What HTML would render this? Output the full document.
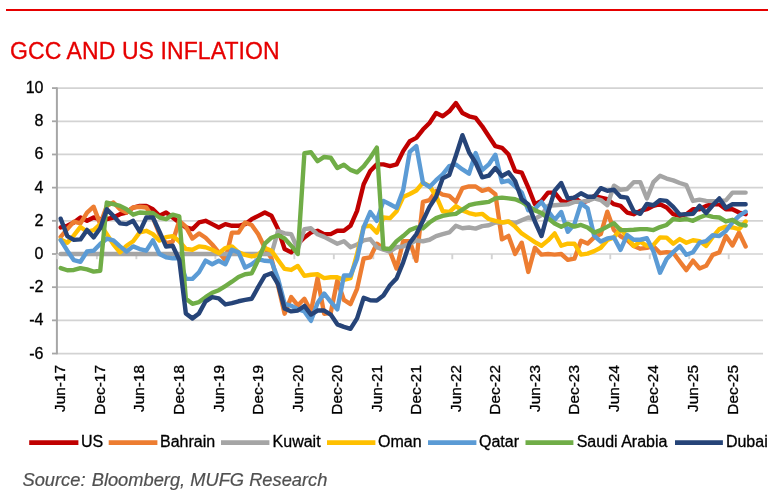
<!DOCTYPE html>
<html><head><meta charset="utf-8"><title>GCC and US Inflation</title>
<style>
html,body{margin:0;padding:0;background:#fff;}
body{width:775px;height:497px;position:relative;overflow:hidden;font-family:"Liberation Sans",Arial,sans-serif;}
.rule{position:absolute;left:6px;top:9px;width:762px;height:2px;background:#E60000;}
.title{position:absolute;left:10px;top:37px;font-size:23px;letter-spacing:0.09px;color:#E60000;-webkit-text-stroke:0.3px #E60000;white-space:nowrap;line-height:28px;}
.src{position:absolute;left:22.5px;top:469px;font-size:18.3px;font-style:italic;color:#505050;-webkit-text-stroke:0.2px #505050;white-space:nowrap;line-height:22px;}
svg text{font-family:"Liberation Sans",Arial,sans-serif;fill:#000;stroke:#000;stroke-width:0.3px;}
svg text.ax{font-size:16.0px;}
svg text.ay{font-size:16px;}
svg text.axx{font-size:15.4px;}
</style></head><body>
<div class="rule"></div>
<div class="title">GCC AND US INFLATION</div>
<svg width="775" height="497" viewBox="0 0 775 497" style="position:absolute;left:0;top:0">
<line x1="57.4" y1="353.54" x2="763.0" y2="353.54" stroke="#D3D3D3" stroke-width="1.7"/>
<line x1="52" y1="353.54" x2="57.4" y2="353.54" stroke="#A6A6A6" stroke-width="1.8"/>
<line x1="57.4" y1="320.36" x2="763.0" y2="320.36" stroke="#D3D3D3" stroke-width="1.7"/>
<line x1="52" y1="320.36" x2="57.4" y2="320.36" stroke="#A6A6A6" stroke-width="1.8"/>
<line x1="57.4" y1="287.18" x2="763.0" y2="287.18" stroke="#D3D3D3" stroke-width="1.7"/>
<line x1="52" y1="287.18" x2="57.4" y2="287.18" stroke="#A6A6A6" stroke-width="1.8"/>
<line x1="57.4" y1="254.00" x2="763.0" y2="254.00" stroke="#D3D3D3" stroke-width="1.7"/>
<line x1="52" y1="254.00" x2="57.4" y2="254.00" stroke="#A6A6A6" stroke-width="1.8"/>
<line x1="57.4" y1="220.82" x2="763.0" y2="220.82" stroke="#D3D3D3" stroke-width="1.7"/>
<line x1="52" y1="220.82" x2="57.4" y2="220.82" stroke="#A6A6A6" stroke-width="1.8"/>
<line x1="57.4" y1="187.64" x2="763.0" y2="187.64" stroke="#D3D3D3" stroke-width="1.7"/>
<line x1="52" y1="187.64" x2="57.4" y2="187.64" stroke="#A6A6A6" stroke-width="1.8"/>
<line x1="57.4" y1="154.46" x2="763.0" y2="154.46" stroke="#D3D3D3" stroke-width="1.7"/>
<line x1="52" y1="154.46" x2="57.4" y2="154.46" stroke="#A6A6A6" stroke-width="1.8"/>
<line x1="57.4" y1="121.28" x2="763.0" y2="121.28" stroke="#D3D3D3" stroke-width="1.7"/>
<line x1="52" y1="121.28" x2="57.4" y2="121.28" stroke="#A6A6A6" stroke-width="1.8"/>
<line x1="57.4" y1="88.10" x2="763.0" y2="88.10" stroke="#D3D3D3" stroke-width="1.7"/>
<line x1="52" y1="88.10" x2="57.4" y2="88.10" stroke="#A6A6A6" stroke-width="1.8"/>
<line x1="56.9" y1="87.50" x2="56.9" y2="354.14" stroke="#A6A6A6" stroke-width="2"/>
<line x1="57.40" y1="254.00" x2="57.40" y2="259.20" stroke="#D3D3D3" stroke-width="1.9"/>
<line x1="96.89" y1="254.00" x2="96.89" y2="259.20" stroke="#D3D3D3" stroke-width="1.9"/>
<line x1="136.38" y1="254.00" x2="136.38" y2="259.20" stroke="#D3D3D3" stroke-width="1.9"/>
<line x1="175.87" y1="254.00" x2="175.87" y2="259.20" stroke="#D3D3D3" stroke-width="1.9"/>
<line x1="215.36" y1="254.00" x2="215.36" y2="259.20" stroke="#D3D3D3" stroke-width="1.9"/>
<line x1="254.85" y1="254.00" x2="254.85" y2="259.20" stroke="#D3D3D3" stroke-width="1.9"/>
<line x1="294.34" y1="254.00" x2="294.34" y2="259.20" stroke="#D3D3D3" stroke-width="1.9"/>
<line x1="333.83" y1="254.00" x2="333.83" y2="259.20" stroke="#D3D3D3" stroke-width="1.9"/>
<line x1="373.32" y1="254.00" x2="373.32" y2="259.20" stroke="#D3D3D3" stroke-width="1.9"/>
<line x1="412.81" y1="254.00" x2="412.81" y2="259.20" stroke="#D3D3D3" stroke-width="1.9"/>
<line x1="452.30" y1="254.00" x2="452.30" y2="259.20" stroke="#D3D3D3" stroke-width="1.9"/>
<line x1="491.79" y1="254.00" x2="491.79" y2="259.20" stroke="#D3D3D3" stroke-width="1.9"/>
<line x1="531.28" y1="254.00" x2="531.28" y2="259.20" stroke="#D3D3D3" stroke-width="1.9"/>
<line x1="570.77" y1="254.00" x2="570.77" y2="259.20" stroke="#D3D3D3" stroke-width="1.9"/>
<line x1="610.26" y1="254.00" x2="610.26" y2="259.20" stroke="#D3D3D3" stroke-width="1.9"/>
<line x1="649.75" y1="254.00" x2="649.75" y2="259.20" stroke="#D3D3D3" stroke-width="1.9"/>
<line x1="689.24" y1="254.00" x2="689.24" y2="259.20" stroke="#D3D3D3" stroke-width="1.9"/>
<line x1="728.73" y1="254.00" x2="728.73" y2="259.20" stroke="#D3D3D3" stroke-width="1.9"/>
<polyline points="60.70,227.46 67.29,225.80 73.87,222.48 80.46,217.50 87.04,220.82 93.63,217.50 100.22,219.16 106.80,219.16 113.39,217.50 119.97,214.18 126.56,212.53 133.15,207.55 139.73,205.89 146.32,205.89 152.90,209.21 159.49,215.84 166.08,212.53 172.66,217.50 179.25,222.48 185.83,227.46 192.42,229.12 199.01,222.48 205.59,220.82 212.18,224.14 218.76,227.46 225.35,224.14 231.94,225.80 238.52,225.80 245.11,224.14 251.69,219.16 258.28,215.84 264.87,212.53 271.45,215.84 278.04,229.12 284.62,249.02 291.21,252.34 297.80,244.05 304.38,237.41 310.97,232.43 317.55,230.77 324.14,234.09 330.73,234.09 337.31,230.77 343.90,230.77 350.48,225.80 357.07,210.87 363.66,184.32 370.24,171.05 376.83,164.41 383.41,164.41 390.00,166.07 396.59,164.41 403.17,151.14 409.76,141.19 416.34,137.87 422.93,129.57 429.52,122.94 436.10,112.99 442.69,116.30 449.27,111.33 455.86,103.03 462.45,112.99 469.03,116.30 475.62,117.96 482.20,126.26 488.79,136.21 495.38,146.17 501.96,147.82 508.55,154.46 515.13,171.05 521.72,172.71 528.31,187.64 534.89,204.23 541.48,200.91 548.06,192.62 554.65,192.62 561.24,200.91 567.82,202.57 574.41,197.59 580.99,202.57 587.58,200.91 594.17,195.94 600.75,197.59 607.34,199.25 613.92,204.23 620.51,205.89 627.10,212.53 633.68,214.18 640.27,210.87 646.85,209.21 653.44,205.89 660.03,204.23 666.61,207.55 673.20,214.18 679.78,215.84 686.37,214.18 692.96,209.21 699.54,209.21 706.13,205.89 712.71,204.23 719.30,204.23 725.89,209.21 732.47,209.21 739.06,212.53 745.64,214.18" fill="none" stroke="#C00000" stroke-width="4.4" stroke-linejoin="round" stroke-linecap="round"/>
<polyline points="60.70,236.91 67.29,229.12 73.87,221.65 80.46,223.31 87.04,212.53 93.63,206.72 100.22,224.14 106.80,205.89 113.39,202.57 119.97,209.21 126.56,212.53 133.15,207.55 139.73,206.72 146.32,207.55 152.90,217.50 159.49,234.09 166.08,243.22 172.66,241.56 179.25,220.82 185.83,226.63 192.42,238.57 199.01,233.43 205.59,237.74 212.18,244.54 218.76,252.34 225.35,259.97 231.94,232.60 238.52,232.60 245.11,222.48 251.69,224.97 258.28,234.26 264.87,248.03 271.45,258.31 278.04,285.52 284.62,313.72 291.21,297.13 297.80,305.43 304.38,298.79 310.97,311.40 317.55,278.06 324.14,313.72 330.73,312.89 337.31,280.54 343.90,299.95 350.48,304.10 357.07,288.84 363.66,258.48 370.24,257.32 376.83,243.71 383.41,248.03 390.00,251.51 396.59,268.60 403.17,241.23 409.76,241.23 416.34,260.80 422.93,201.91 429.52,200.08 436.10,190.96 442.69,194.61 449.27,195.94 455.86,201.91 462.45,188.14 469.03,186.48 475.62,186.48 482.20,190.79 488.79,188.97 495.38,194.28 501.96,239.40 508.55,235.92 515.13,254.00 521.72,242.72 528.31,271.92 534.89,247.86 541.48,254.66 548.06,254.00 554.65,254.66 561.24,254.00 567.82,259.81 574.41,258.65 580.99,240.73 587.58,243.55 594.17,237.41 600.75,234.09 607.34,211.70 613.92,229.94 620.51,236.25 627.10,239.90 633.68,246.04 640.27,248.69 646.85,247.86 653.44,246.20 660.03,253.00 666.61,252.18 673.20,252.67 679.78,261.47 686.37,270.09 692.96,260.64 699.54,268.43 706.13,265.78 712.71,254.83 719.30,252.34 725.89,236.08 732.47,245.37 739.06,232.60 745.64,246.53" fill="none" stroke="#ED7D31" stroke-width="4.4" stroke-linejoin="round" stroke-linecap="round"/>
<polyline points="60.70,254.00 67.29,254.00 73.87,254.00 80.46,254.00 87.04,254.00 93.63,254.00 100.22,254.00 106.80,254.00 113.39,254.00 119.97,254.00 126.56,254.00 133.15,254.00 139.73,254.00 146.32,254.00 152.90,254.00 159.49,254.00 166.08,254.00 172.66,254.00 179.25,254.00 185.83,254.00 192.42,254.00 199.01,254.00 205.59,254.00 212.18,254.00 218.76,254.00 225.35,254.00 231.94,254.00 238.52,254.00 245.11,254.00 251.69,254.00 258.28,254.00 264.87,254.00 271.45,254.00 278.04,230.94 284.62,233.43 291.21,234.26 297.80,249.02 304.38,229.12 310.97,228.29 317.55,234.26 324.14,236.91 330.73,240.40 337.31,243.71 343.90,241.23 350.48,247.20 357.07,244.54 363.66,240.40 370.24,239.07 376.83,247.20 383.41,249.69 390.00,251.51 396.59,247.20 403.17,246.37 409.76,243.71 416.34,240.40 422.93,241.23 429.52,239.73 436.10,236.08 442.69,234.09 449.27,232.43 455.86,225.80 462.45,228.29 469.03,227.46 475.62,228.62 482.20,226.13 488.79,225.30 495.38,222.48 501.96,222.48 508.55,221.65 515.13,223.14 521.72,220.32 528.31,217.50 534.89,218.83 541.48,215.01 548.06,205.89 554.65,205.23 561.24,204.73 567.82,204.40 574.41,201.91 580.99,201.91 587.58,200.91 594.17,198.42 600.75,200.08 607.34,205.23 613.92,185.65 620.51,189.80 627.10,188.97 633.68,182.17 640.27,182.17 646.85,198.42 653.44,182.17 660.03,175.70 666.61,178.52 673.20,180.34 679.78,182.99 686.37,185.15 692.96,200.91 699.54,199.58 706.13,200.91 712.71,201.08 719.30,200.91 725.89,200.41 732.47,192.62 739.06,192.62 745.64,192.62" fill="none" stroke="#A5A5A5" stroke-width="4.4" stroke-linejoin="round" stroke-linecap="round"/>
<polyline points="60.70,239.40 67.29,242.72 73.87,235.42 80.46,226.96 87.04,231.77 93.63,230.11 100.22,224.14 106.80,234.09 113.39,244.38 119.97,252.34 126.56,245.71 133.15,241.23 139.73,232.43 146.32,230.77 152.90,234.09 159.49,240.56 166.08,237.08 172.66,236.08 179.25,241.23 185.83,249.02 192.42,249.69 199.01,246.37 205.59,247.20 212.18,249.69 218.76,253.17 225.35,248.03 231.94,246.37 238.52,252.34 245.11,254.83 251.69,256.49 258.28,254.83 264.87,248.03 271.45,250.68 278.04,259.97 284.62,268.93 291.21,269.93 297.80,265.94 304.38,275.90 310.97,274.74 317.55,274.24 324.14,278.06 330.73,277.23 337.31,277.23 343.90,279.88 350.48,278.06 357.07,254.00 363.66,226.63 370.24,225.80 376.83,232.60 383.41,217.50 390.00,218.17 396.59,211.20 403.17,197.10 409.76,193.94 416.34,190.46 422.93,182.66 429.52,185.98 436.10,195.94 442.69,211.20 449.27,212.03 455.86,206.05 462.45,210.37 469.03,213.02 475.62,214.68 482.20,213.85 488.79,219.00 495.38,220.82 501.96,222.48 508.55,221.48 515.13,226.63 521.72,233.43 528.31,237.74 534.89,242.06 541.48,245.71 548.06,240.40 554.65,233.43 561.24,245.71 567.82,243.71 574.41,243.71 580.99,254.66 587.58,253.67 594.17,251.18 600.75,247.70 607.34,240.06 613.92,237.41 620.51,229.12 627.10,236.58 633.68,246.04 640.27,241.72 646.85,245.87 653.44,244.88 660.03,237.41 666.61,237.58 673.20,243.71 679.78,239.07 686.37,242.72 692.96,240.23 699.54,241.06 706.13,245.87 712.71,236.91 719.30,229.12 725.89,226.63 732.47,227.46 739.06,229.12 745.64,221.48" fill="none" stroke="#FFC000" stroke-width="4.4" stroke-linejoin="round" stroke-linecap="round"/>
<polyline points="60.70,240.06 67.29,250.68 73.87,260.14 80.46,261.80 87.04,251.51 93.63,250.68 100.22,244.05 106.80,238.74 113.39,240.40 119.97,246.37 126.56,251.51 133.15,246.37 139.73,249.02 146.32,250.68 152.90,240.40 159.49,254.00 166.08,257.32 172.66,258.31 179.25,258.31 185.83,278.88 192.42,278.88 199.01,272.25 205.59,260.64 212.18,264.29 218.76,260.80 225.35,264.29 231.94,249.69 238.52,252.34 245.11,267.60 251.69,264.29 258.28,259.14 264.87,260.80 271.45,261.30 278.04,278.88 284.62,303.77 291.21,305.76 297.80,309.24 304.38,311.40 310.97,320.86 317.55,302.94 324.14,293.48 330.73,301.78 337.31,309.41 343.90,275.57 350.48,275.57 357.07,258.98 363.66,227.46 370.24,212.03 376.83,220.82 383.41,200.91 390.00,204.23 396.59,207.88 403.17,190.13 409.76,151.97 416.34,146.17 422.93,182.66 429.52,186.98 436.10,180.17 442.69,174.37 449.27,166.07 455.86,164.41 462.45,169.39 469.03,173.70 475.62,153.13 482.20,170.22 488.79,164.41 495.38,154.79 501.96,182.17 508.55,180.51 515.13,186.48 521.72,192.62 528.31,210.37 534.89,208.71 541.48,201.91 548.06,211.20 554.65,219.82 561.24,212.03 567.82,231.77 574.41,224.14 580.99,203.40 587.58,208.21 594.17,235.75 600.75,241.56 607.34,238.41 613.92,237.41 620.51,249.85 627.10,235.09 633.68,239.73 640.27,239.73 646.85,238.24 653.44,251.35 660.03,272.75 666.61,258.98 673.20,252.18 679.78,246.20 686.37,254.83 692.96,252.18 699.54,242.72 706.13,241.06 712.71,235.25 719.30,236.08 725.89,230.94 732.47,222.48 739.06,215.84 745.64,211.70" fill="none" stroke="#5B9BD5" stroke-width="4.4" stroke-linejoin="round" stroke-linecap="round"/>
<polyline points="60.70,268.10 67.29,270.26 73.87,269.93 80.46,268.10 87.04,269.43 93.63,271.59 100.22,270.76 106.80,202.57 113.39,204.23 119.97,205.89 126.56,209.21 133.15,214.68 139.73,212.53 146.32,213.02 152.90,213.02 159.49,217.50 166.08,219.16 172.66,214.68 179.25,216.34 185.83,298.79 192.42,303.77 199.01,302.11 205.59,297.13 212.18,292.82 218.76,290.17 225.35,286.02 231.94,281.71 238.52,277.06 245.11,274.24 251.69,273.41 258.28,259.81 264.87,243.71 271.45,237.74 278.04,235.25 284.62,238.57 291.21,245.71 297.80,254.00 304.38,153.30 310.97,152.30 317.55,161.26 324.14,156.95 330.73,157.78 337.31,168.06 343.90,164.75 350.48,169.89 357.07,172.38 363.66,166.40 370.24,157.78 376.83,147.66 383.41,248.53 390.00,249.02 396.59,241.23 403.17,236.08 409.76,230.11 416.34,227.46 422.93,228.29 429.52,222.48 436.10,218.17 442.69,215.84 449.27,214.68 455.86,213.85 462.45,209.54 469.03,205.23 475.62,203.57 482.20,202.74 488.79,201.91 495.38,198.42 501.96,197.59 508.55,198.42 515.13,199.25 521.72,201.91 528.31,206.05 534.89,210.37 541.48,213.02 548.06,218.17 554.65,223.47 561.24,226.79 567.82,223.64 574.41,226.63 580.99,224.97 587.58,227.46 594.17,232.60 600.75,230.11 607.34,226.63 613.92,223.14 620.51,230.11 627.10,230.11 633.68,229.78 640.27,229.12 646.85,229.12 653.44,230.11 660.03,227.12 666.61,224.97 673.20,219.00 679.78,219.82 686.37,219.00 692.96,220.82 699.54,217.50 706.13,215.01 712.71,216.84 719.30,217.50 725.89,221.48 732.47,219.82 739.06,224.14 745.64,225.47" fill="none" stroke="#70AD47" stroke-width="4.4" stroke-linejoin="round" stroke-linecap="round"/>
<polyline points="60.70,218.66 67.29,236.08 73.87,239.90 80.46,239.40 87.04,229.94 93.63,237.41 100.22,228.29 106.80,209.21 113.39,215.84 119.97,223.31 126.56,224.14 133.15,220.82 139.73,231.60 146.32,217.50 152.90,217.50 159.49,231.60 166.08,246.53 172.66,245.71 179.25,259.81 185.83,313.39 192.42,318.37 199.01,313.39 205.59,301.28 212.18,297.13 218.76,298.30 225.35,304.43 231.94,303.11 238.52,301.28 245.11,299.95 251.69,298.79 258.28,286.85 264.87,275.73 271.45,273.24 278.04,284.19 284.62,308.58 291.21,311.40 297.80,310.57 304.38,305.93 310.97,314.55 317.55,310.57 324.14,310.57 330.73,314.55 337.31,324.34 343.90,326.83 350.48,328.82 357.07,318.37 363.66,297.80 370.24,300.29 376.83,300.45 383.41,295.48 390.00,285.19 396.59,278.39 403.17,262.30 409.76,242.88 416.34,234.26 422.93,220.82 429.52,206.88 436.10,196.76 442.69,178.35 449.27,175.03 455.86,155.79 462.45,135.22 469.03,152.30 475.62,162.75 482.20,177.35 488.79,175.70 495.38,168.06 501.96,176.03 508.55,172.38 515.13,181.00 521.72,199.25 528.31,204.40 534.89,221.48 541.48,236.08 548.06,212.03 554.65,190.79 561.24,182.99 567.82,198.42 574.41,197.59 580.99,193.28 587.58,196.76 594.17,196.76 600.75,188.14 607.34,190.79 613.92,189.80 620.51,196.76 627.10,197.59 633.68,211.20 640.27,213.85 646.85,203.90 653.44,205.23 660.03,200.08 666.61,200.91 673.20,206.88 679.78,214.68 686.37,214.18 692.96,213.85 699.54,205.89 706.13,213.02 712.71,205.23 719.30,198.42 725.89,207.88 732.47,204.23 739.06,204.23 745.64,204.23" fill="none" stroke="#264478" stroke-width="4.4" stroke-linejoin="round" stroke-linecap="round"/>
<text x="43.5" y="358.54" text-anchor="end" class="ay">-6</text>
<text x="43.5" y="325.36" text-anchor="end" class="ay">-4</text>
<text x="43.5" y="292.18" text-anchor="end" class="ay">-2</text>
<text x="43.5" y="259.00" text-anchor="end" class="ay">0</text>
<text x="43.5" y="225.82" text-anchor="end" class="ay">2</text>
<text x="43.5" y="192.64" text-anchor="end" class="ay">4</text>
<text x="43.5" y="159.46" text-anchor="end" class="ay">6</text>
<text x="43.5" y="126.28" text-anchor="end" class="ay">8</text>
<text x="43.5" y="93.10" text-anchor="end" class="ay">10</text>
<text transform="translate(65.35,365) rotate(-90)" text-anchor="end" class="axx">Jun-17</text>
<text transform="translate(104.89,365) rotate(-90)" text-anchor="end" class="axx">Dec-17</text>
<text transform="translate(144.43,365) rotate(-90)" text-anchor="end" class="axx">Jun-18</text>
<text transform="translate(183.97,365) rotate(-90)" text-anchor="end" class="axx">Dec-18</text>
<text transform="translate(223.51,365) rotate(-90)" text-anchor="end" class="axx">Jun-19</text>
<text transform="translate(263.05,365) rotate(-90)" text-anchor="end" class="axx">Dec-19</text>
<text transform="translate(302.59,365) rotate(-90)" text-anchor="end" class="axx">Jun-20</text>
<text transform="translate(342.13,365) rotate(-90)" text-anchor="end" class="axx">Dec-20</text>
<text transform="translate(381.67,365) rotate(-90)" text-anchor="end" class="axx">Jun-21</text>
<text transform="translate(421.21,365) rotate(-90)" text-anchor="end" class="axx">Dec-21</text>
<text transform="translate(460.75,365) rotate(-90)" text-anchor="end" class="axx">Jun-22</text>
<text transform="translate(500.29,365) rotate(-90)" text-anchor="end" class="axx">Dec-22</text>
<text transform="translate(539.83,365) rotate(-90)" text-anchor="end" class="axx">Jun-23</text>
<text transform="translate(579.37,365) rotate(-90)" text-anchor="end" class="axx">Dec-23</text>
<text transform="translate(618.91,365) rotate(-90)" text-anchor="end" class="axx">Jun-24</text>
<text transform="translate(658.45,365) rotate(-90)" text-anchor="end" class="axx">Dec-24</text>
<text transform="translate(697.99,365) rotate(-90)" text-anchor="end" class="axx">Jun-25</text>
<text transform="translate(737.53,365) rotate(-90)" text-anchor="end" class="axx">Dec-25</text>
<line x1="29.2" y1="442.6" x2="78.4" y2="442.6" stroke="#C00000" stroke-width="4.6" stroke-linecap="butt"/>
<text x="80.89999999999999" y="447.4" class="ax">US</text>
<line x1="108.7" y1="442.6" x2="157.4" y2="442.6" stroke="#ED7D31" stroke-width="4.6" stroke-linecap="butt"/>
<text x="160.0" y="447.4" class="ax">Bahrain</text>
<line x1="221" y1="442.6" x2="269.4" y2="442.6" stroke="#A5A5A5" stroke-width="4.6" stroke-linecap="butt"/>
<text x="272.6" y="447.4" class="ax">Kuwait</text>
<line x1="327" y1="442.6" x2="375.4" y2="442.6" stroke="#FFC000" stroke-width="4.6" stroke-linecap="butt"/>
<text x="378.1" y="447.4" class="ax">Oman</text>
<line x1="428" y1="442.6" x2="476.4" y2="442.6" stroke="#5B9BD5" stroke-width="4.6" stroke-linecap="butt"/>
<text x="479.0" y="447.4" class="ax">Qatar</text>
<line x1="525.5" y1="442.6" x2="573.4" y2="442.6" stroke="#70AD47" stroke-width="4.6" stroke-linecap="butt"/>
<text x="576.6999999999999" y="447.4" class="ax">Saudi Arabia</text>
<line x1="675" y1="442.6" x2="722.9" y2="442.6" stroke="#264478" stroke-width="4.6" stroke-linecap="butt"/>
<text x="725.9" y="447.4" class="ax">Dubai</text>
</svg>
<div class="src">Source: <span style="margin-left:1.1px">Bloomberg, MUFG Research</span></div>
</body></html>
